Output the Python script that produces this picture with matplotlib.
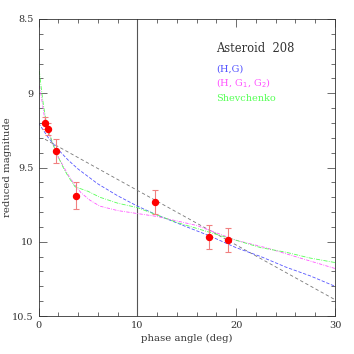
import matplotlib
matplotlib.use("Agg")
import matplotlib.pyplot as plt
from matplotlib.ticker import MultipleLocator

# observations
obs_phase = [0.63, 0.99, 1.74, 3.76, 11.82, 17.28, 19.2]
obs_mag = [9.20, 9.24, 9.39, 9.69, 9.73, 9.97, 9.99]
obs_err = [0.04, 0.04, 0.08, 0.09, 0.08, 0.08, 0.08]

# linear fit (black dashed)
lin_phase = [0.66, 30.0]
lin_mag = [9.31, 10.39]

# (H,G) curve
hg_phase = [0, 0.5, 1, 2, 3, 4, 5, 6, 8, 10, 12, 15, 17.3, 20, 22.5, 25, 27.5, 30]
hg_mag = [9.20, 9.25, 9.30, 9.38, 9.45, 9.51, 9.56, 9.61, 9.69, 9.76, 9.82, 9.90,
          9.96, 10.04, 10.10, 10.17, 10.23, 10.30]

# (H, G1, G2) curve
hg12_phase = [0.1, 0.3, 0.6, 1, 1.5, 2, 2.5, 3, 3.7, 4.3, 5.2, 6.2, 8, 10, 12, 14,
              16, 18, 20, 23, 26, 30]
hg12_mag = [8.95, 9.03, 9.16, 9.26, 9.35, 9.43, 9.49, 9.55, 9.62, 9.67, 9.72, 9.76,
            9.79, 9.81, 9.83, 9.86, 9.89, 9.94, 9.99, 10.04, 10.10, 10.18]

# Shevchenko curve
shev_phase = [0, 0.25, 0.5, 0.75, 1, 1.5, 2, 2.5, 3, 3.7, 5, 6.2, 8, 10, 12, 14, 16,
              18, 20, 22.5, 25, 27.5, 30]
shev_mag = [8.80, 8.95, 9.08, 9.18, 9.25, 9.35, 9.43, 9.50, 9.56, 9.63, 9.66, 9.70,
            9.74, 9.77, 9.82, 9.87, 9.91, 9.95, 9.99, 10.04, 10.07, 10.11, 10.14]

legend_labels = ["(H,G)", "(H, G$_1$, G$_2$)", "Shevchenko"]
legend_colors = ["#5555ff", "#ff55ff", "#55ff55"]

plt.rcParams['font.family'] = ['DejaVu Serif']

fig = plt.figure(figsize=(3.54, 3.54), dpi=100)
ax = fig.add_axes([38.5 / 354, 1 - 316 / 354, 296.5 / 354, 297 / 354])

ax.axvline(10, color='#555555', linewidth=0.8)

ax.plot(lin_phase, lin_mag, color='#777777', linestyle=(0, (4, 3)), linewidth=0.6)
ax.plot(hg_phase, hg_mag, color=legend_colors[0], linestyle=(0, (4, 2)), linewidth=0.6)
ax.plot(hg12_phase, hg12_mag, color=legend_colors[1], linestyle=(0, (4, 1.5, 1, 1.5)), linewidth=0.6)
ax.plot(shev_phase, shev_mag, color=legend_colors[2], linestyle=(0, (5, 1.5, 1, 1.5)), linewidth=0.6)

ax.errorbar(obs_phase, obs_mag, yerr=obs_err, fmt='o', color='red', markersize=4.3,
            ecolor='#f08080', elinewidth=0.8, capsize=2.5, capthick=0.8)

ax.set_xlim(0, 30)
ax.set_ylim(10.5, 8.5)
ax.xaxis.set_major_locator(MultipleLocator(10))
ax.xaxis.set_minor_locator(MultipleLocator(2))
ax.yaxis.set_minor_locator(MultipleLocator(0.1))
ax.set_yticks([8.5, 9, 9.5, 10, 10.5])
ax.set_yticklabels(['8.5', '9', '9.5', '10', '10.5'])
ax.tick_params(which='both', direction='in', top=True, right=True, labelsize=7,
               colors='#333333', width=0.5)
ax.tick_params(which='major', length=6)
ax.tick_params(which='minor', length=3)
for s in ax.spines.values():
    s.set_linewidth(0.6)
    s.set_color('#333333')

ax.set_xlabel('phase angle (deg)', fontsize=7.3, color='#333333', labelpad=3)
ax.set_ylabel('reduced magnitude', fontsize=7.3, color='#333333', va='center')
ax.yaxis.set_label_coords(-0.103, 0.5)

ax.text(0.6, 0.9, 'Asteroid  208', transform=ax.transAxes, fontsize=8.3, color='#333333',
        va='center')
for i, (lab, col) in enumerate(zip(legend_labels, legend_colors)):
    ax.text(0.6, 0.833 - i * 0.05, lab, transform=ax.transAxes, fontsize=7, color=col,
            va='center')

fig.savefig('out.png', dpi=100)
